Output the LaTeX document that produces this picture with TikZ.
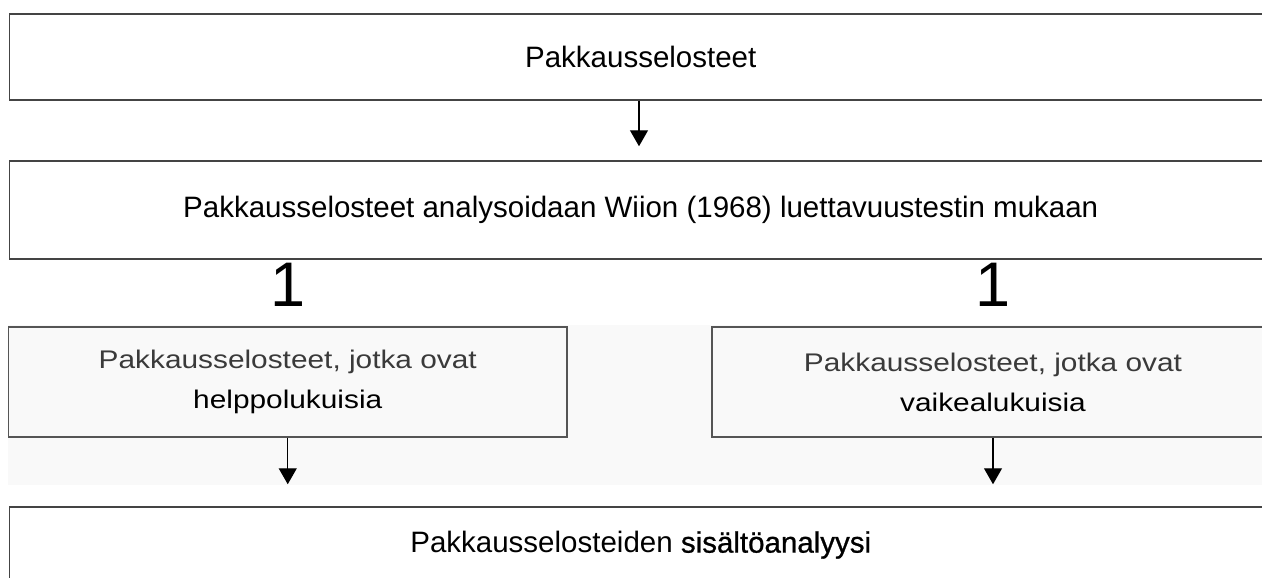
\documentclass[tikz,border=0pt]{standalone}
\usepackage{fontspec}
\setmainfont{Liberation Sans}
\newfontfamily\rowfont[FakeStretch=1.17]{Liberation Sans}
\newfontfamily\semibfont[FakeBold=0.8]{Liberation Sans}
\usetikzlibrary{arrows.meta}
\definecolor{band}{RGB}{249,249,249}
\definecolor{edge}{RGB}{68,68,68}
\definecolor{rowedge}{RGB}{85,85,85}
\definecolor{graytext}{RGB}{58,58,58}
\begin{document}
\begin{tikzpicture}[x=1pt,y=-1pt,
  box/.style={draw=edge,line width=1.5pt,rectangle,inner sep=0pt,
    font=\fontsize{29.5}{35}\selectfont,text=black},
  rowbox/.style={draw=rowedge,line width=1.3pt,rectangle,inner sep=0pt,
    align=center,font=\rowfont\fontsize{25.5}{40}\selectfont,text=black,
    minimum height=110pt},
  arr/.style={draw=black,line width=1.2pt,-{Triangle[width=18pt,length=16pt]}},
  one/.style={font=\fontsize{63}{70}\selectfont,inner sep=0pt,text=black}]
\useasboundingbox (0,0) rectangle (1262,578);
\clip (0,0) rectangle (1262,578);
\fill[band] (8,325) rectangle (1262,485);
\node[box,minimum width=1262.5pt,minimum height=86pt] (top) at (640.75,57) {Pakkausselosteet};
\node[box,minimum width=1262.5pt,minimum height=98pt] (second) at (640.75,210)
  {Pakkausselosteet analysoidaan Wiion (1968) luettavuustestin mukaan};
\node[one] (oneL) at (288,284.5) {1};
\node[one] (oneR) at (993,284.5) {1};
\node[rowbox,minimum width=558.5pt] (left) at (287.75,382)
  {\textcolor{graytext}{Pakkausselosteet, jotka ovat}\\helppolukuisia};
\node[rowbox,minimum width=562pt] (right) at (993,382)
  {\textcolor{graytext}{Pakkausselosteet, jotka ovat}\\vaikealukuisia};
\node[box,minimum width=1262.5pt,minimum height=76pt] (bottom) at (640.75,545)
  {Pakkausselosteiden {\semibfont sisältöanalyysi}};
\coordinate (c1) at (639,0);
\draw[arr,shorten >=14pt] (top.south -| c1) -- (second.north -| c1);
\draw[arr,shorten >=22pt] (left.south) -- (bottom.north -| left.south);
\draw[arr,shorten >=22pt] (right.south) -- (bottom.north -| right.south);
\end{tikzpicture}
\end{document}
